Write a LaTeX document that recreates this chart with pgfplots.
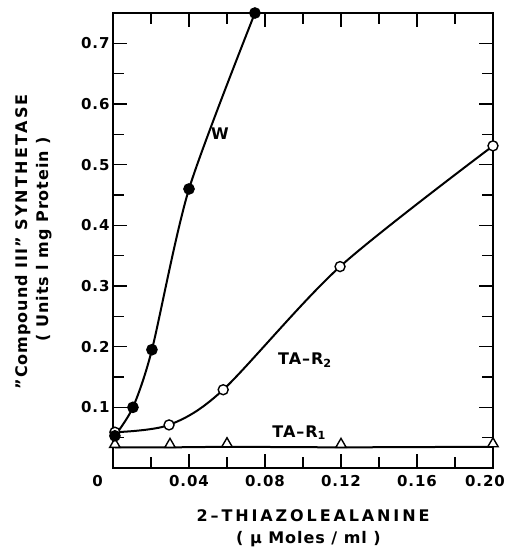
\documentclass[border=0pt]{standalone}
\usepackage{fontspec}
\setmainfont{DejaVu Sans}[LetterSpace=6]
\usepackage{pgfplots}
\pgfplotsset{compat=1.18}
\begin{document}
\begin{tikzpicture}
\useasboundingbox (-113pt,-79pt) rectangle (398pt,468pt);
\begin{axis}[
  at={(0,0)}, anchor=origin,
  scale only axis, width=380pt, height=455pt,
  xmin=0, xmax=0.2, ymin=0, ymax=0.75,
  clip=false,
  axis line style={line width=1.5pt},
  tick style={line width=1.4pt, black},
  tick align=inside,
  major tick length=14pt,
  minor tick length=11pt,
  xtick={0,0.04,0.08,0.12,0.16,0.2},
  xticklabels={\hspace*{-31pt}0,0.04,0.08,0.12,0.16,\hspace*{-16pt}0.20},
  minor xtick={0.02,0.06,0.1,0.14,0.18},
  ytick={0.1,0.2,0.3,0.4,0.5,0.6,0.7},
  yticklabels={0.1,0.2,0.3,0.4,0.5,0.6,0.7},
  minor ytick={0.05,0.15,0.25,0.35,0.45,0.55,0.65},
  tick label style={font=\fontsize{15}{15}\selectfont\bfseries},
  xticklabel style={yshift=-4pt},
  /pgf/number format/assume math mode=true,
]
% TA-R1 (open triangles)
\addplot[black, line width=2pt, mark=triangle*, mark size=6pt, mark options={fill=white, line width=1.4pt, yshift=3pt}]
  coordinates {(0.001,0.034) (0.030,0.034) (0.060,0.035) (0.120,0.034) (0.200,0.035)};
% TA-R2 (open circles)
\addplot[black, line width=2pt, smooth, tension=0.5, mark=*, mark size=5pt, mark options={fill=white, line width=1.4pt}]
  coordinates {(0.001,0.059) (0.0295,0.071) (0.058,0.129) (0.1195,0.332) (0.200,0.531)};
% W (filled circles)
\addplot[black, line width=2pt, smooth, tension=0.45, mark=*, mark options={fill=black}, mark size=4.8pt]
  coordinates {(0.001,0.053) (0.0105,0.100) (0.0205,0.195) (0.040,0.460) (0.0747,0.750)};

\node[font=\fontsize{16}{16}\selectfont\bfseries] at (axis cs:0.0563,0.551) {W};
\node[font=\fontsize{16}{16}\selectfont\bfseries] at (axis cs:0.101,0.178) {TA--R\textsubscript{2}};
\node[font=\fontsize{16}{16}\selectfont\bfseries] at (axis cs:0.098,0.058) {TA--R\textsubscript{1}};

\node[rotate=90, font=\fontsize{16}{16}\selectfont\bfseries] at (axis cs:-0.0475,0.373)
  {"Compound III" {\addfontfeature{LetterSpace=14}SYNTHETASE}};
\node[rotate=90, font=\fontsize{16}{16}\selectfont\bfseries] at (axis cs:-0.0362,0.377)
  {( Units l mg Protein )};
\node[font=\fontsize{16}{16}\selectfont\bfseries\addfontfeature{LetterSpace=18}] at (axis cs:0.1053,-0.0791)
  {2--THIAZOLEALANINE};
\node[font=\fontsize{16}{16}\selectfont\bfseries] at (axis cs:0.1029,-0.117)
  {( μ Moles / ml )};
\end{axis}
\end{tikzpicture}
\end{document}
